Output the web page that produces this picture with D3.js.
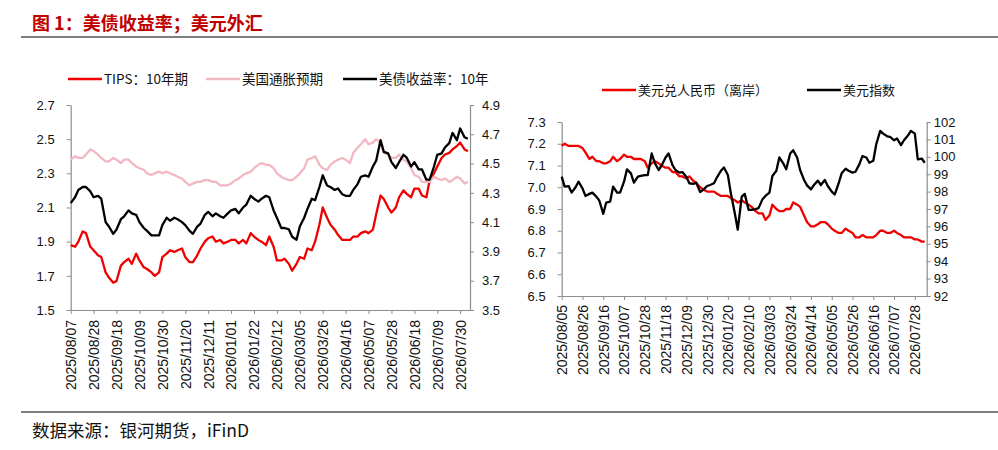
<!DOCTYPE html>
<html>
<head>
<meta charset="utf-8">
<script src="https://cdn.jsdelivr.net/npm/d3@7"></script>
<style>
  body { margin: 0; background: #fff; }
  svg { display: block; font-family: "Noto Sans CJK SC", "Noto Sans", sans-serif; }
  .axis path, .axis line { stroke: #8c8c8c; }
  .axis text { fill: #111; font-size: 13px; }
  .axis.x text { font-size: 14px; }
</style>
</head>
<body>
<svg id="chart" width="998" height="450"></svg>
<script>
// ---- left panel: US rates ----
var usDates = ["2025-08-07","2025-08-11","2025-08-14","2025-08-18","2025-08-21","2025-08-25","2025-08-28",
  "2025-09-01","2025-09-04","2025-09-08","2025-09-11","2025-09-15","2025-09-18","2025-09-22","2025-09-25","2025-09-29",
  "2025-10-02","2025-10-06","2025-10-09","2025-10-13","2025-10-16","2025-10-20","2025-10-23","2025-10-27","2025-10-30",
  "2025-11-03","2025-11-06","2025-11-10","2025-11-13","2025-11-17","2025-11-20","2025-11-24","2025-11-27",
  "2025-12-01","2025-12-04","2025-12-08","2025-12-11","2025-12-15","2025-12-18","2025-12-22","2025-12-25","2025-12-29",
  "2026-01-01","2026-01-05","2026-01-08","2026-01-12","2026-01-15","2026-01-19","2026-01-22","2026-01-26","2026-01-29",
  "2026-02-02","2026-02-05","2026-02-09","2026-02-12","2026-02-16","2026-02-19","2026-02-23","2026-02-26",
  "2026-03-02","2026-03-05","2026-03-09","2026-03-12","2026-03-16","2026-03-19","2026-03-23","2026-03-26","2026-03-30",
  "2026-04-02","2026-04-06","2026-04-09","2026-04-13","2026-04-16","2026-04-20","2026-04-23","2026-04-27","2026-04-30",
  "2026-05-04","2026-05-07","2026-05-11","2026-05-14","2026-05-18","2026-05-21","2026-05-25","2026-05-28",
  "2026-06-01","2026-06-04","2026-06-08","2026-06-11","2026-06-15","2026-06-18","2026-06-22","2026-06-25","2026-06-29",
  "2026-07-02","2026-07-06","2026-07-09","2026-07-13","2026-07-16","2026-07-20","2026-07-23","2026-07-27","2026-07-30",
  "2026-08-03","2026-08-06"];

var tipsYield = [1.88,1.87,1.90,1.96,1.95,1.87,1.85,1.82,1.81,1.72,
  1.69,1.66,1.67,1.76,1.78,1.80,1.77,1.83,1.79,1.75,
  1.74,1.72,1.70,1.72,1.81,1.83,1.85,1.84,1.85,1.86,
  1.81,1.78,1.78,1.82,1.86,1.90,1.92,1.93,1.90,1.91,
  1.89,1.90,1.91,1.91,1.89,1.91,1.89,1.95,1.93,1.91,
  1.90,1.88,1.93,1.87,1.79,1.79,1.80,1.77,1.73,1.77,
  1.81,1.80,1.86,1.85,1.90,2.00,2.10,2.04,2.00,1.97,
  1.94,1.91,1.91,1.91,1.93,1.93,1.95,1.96,1.95,1.97,
  2.06,2.17,2.15,2.10,2.07,2.10,2.16,2.20,2.18,2.16,
  2.21,2.21,2.17,2.16,2.26,2.30,2.34,2.39,2.41,2.42,
  2.44,2.46,2.48,2.44,2.43];

var breakeven = [2.38,2.40,2.39,2.39,2.41,2.44,2.43,2.41,2.39,2.37,
  2.37,2.39,2.38,2.36,2.38,2.38,2.36,2.34,2.33,2.32,
  2.30,2.29,2.30,2.31,2.30,2.31,2.30,2.29,2.28,2.27,
  2.25,2.23,2.24,2.25,2.25,2.26,2.26,2.25,2.25,2.23,
  2.23,2.23,2.24,2.26,2.27,2.29,2.30,2.31,2.33,2.35,
  2.36,2.35,2.35,2.33,2.30,2.28,2.27,2.26,2.26,2.28,
  2.30,2.33,2.38,2.39,2.40,2.35,2.33,2.32,2.35,2.37,
  2.38,2.39,2.38,2.36,2.42,2.45,2.47,2.50,2.47,2.48,
  2.50,2.48,2.42,2.41,2.39,2.39,2.41,2.38,2.37,2.33,
  2.29,2.28,2.25,2.25,2.25,2.28,2.27,2.26,2.27,2.25,
  2.26,2.28,2.27,2.24,2.25];

var ust10y = [4.23,4.27,4.32,4.34,4.34,4.31,4.27,4.28,4.26,4.10,
  4.07,4.02,4.05,4.12,4.14,4.18,4.16,4.15,4.10,4.06,
  4.04,4.01,4.01,4.01,4.08,4.13,4.11,4.13,4.12,4.10,
  4.08,4.04,4.02,4.07,4.09,4.15,4.17,4.14,4.16,4.14,
  4.13,4.16,4.18,4.19,4.16,4.20,4.22,4.28,4.26,4.24,
  4.26,4.28,4.27,4.18,4.13,4.06,4.06,4.05,4.00,3.98,
  4.07,4.13,4.19,4.26,4.25,4.34,4.42,4.35,4.34,4.32,
  4.33,4.29,4.28,4.28,4.32,4.36,4.41,4.42,4.41,4.48,
  4.52,4.66,4.58,4.57,4.51,4.47,4.51,4.56,4.54,4.48,
  4.51,4.46,4.46,4.39,4.39,4.48,4.56,4.57,4.61,4.64,
  4.71,4.66,4.74,4.68,4.67];

var usNames = ["TIPS：10年期", "美国通胀预期", "美债收益率：10年"];
var usTicks = ["2025/08/07","2025/08/28","2025/09/18","2025/10/09","2025/10/30","2025/11/20","2025/12/11",
  "2026/01/01","2026/01/22","2026/02/12","2026/03/05","2026/03/26","2026/04/16","2026/05/07","2026/05/28",
  "2026/06/18","2026/07/09","2026/07/30"];
var usLeftTicks = [1.5, 1.7, 1.9, 2.1, 2.3, 2.5, 2.7];
var usRightTicks = [3.5, 3.7, 3.9, 4.1, 4.3, 4.5, 4.7, 4.9];

// ---- right panel: FX ----
var fxDates = ["2025-08-05","2025-08-08","2025-08-12","2025-08-15","2025-08-19","2025-08-22","2025-08-26","2025-08-29",
  "2025-09-02","2025-09-05","2025-09-09","2025-09-12","2025-09-16","2025-09-19","2025-09-23","2025-09-26","2025-09-30",
  "2025-10-03","2025-10-07","2025-10-10","2025-10-14","2025-10-17","2025-10-21","2025-10-24","2025-10-28","2025-10-31",
  "2025-11-04","2025-11-07","2025-11-11","2025-11-14","2025-11-18","2025-11-21","2025-11-25","2025-11-28",
  "2025-12-02","2025-12-05","2025-12-09","2025-12-12","2025-12-16","2025-12-19","2025-12-23","2025-12-26","2025-12-30",
  "2026-01-02","2026-01-06","2026-01-09","2026-01-13","2026-01-16","2026-01-20","2026-01-23","2026-01-27","2026-01-30",
  "2026-02-03","2026-02-06","2026-02-10","2026-02-13","2026-02-17","2026-02-20","2026-02-24","2026-02-27",
  "2026-03-03","2026-03-06","2026-03-10","2026-03-13","2026-03-17","2026-03-20","2026-03-24","2026-03-27","2026-03-31",
  "2026-04-03","2026-04-07","2026-04-10","2026-04-14","2026-04-17","2026-04-21","2026-04-24","2026-04-28",
  "2026-05-01","2026-05-05","2026-05-08","2026-05-12","2026-05-15","2026-05-19","2026-05-22","2026-05-26","2026-05-29",
  "2026-06-02","2026-06-05","2026-06-09","2026-06-12","2026-06-16","2026-06-19","2026-06-23","2026-06-26","2026-06-30",
  "2026-07-03","2026-07-07","2026-07-10","2026-07-14","2026-07-17","2026-07-21","2026-07-24","2026-07-28","2026-07-31",
  "2026-08-04","2026-08-07"];

var usdCnh = [7.19,7.20,7.19,7.19,7.19,7.19,7.18,7.16,7.13,7.14,
  7.12,7.12,7.11,7.11,7.12,7.14,7.12,7.13,7.15,7.14,
  7.14,7.13,7.13,7.13,7.12,7.09,7.11,7.12,7.11,7.10,
  7.09,7.09,7.07,7.07,7.05,7.05,7.04,7.05,7.03,7.02,
  7.00,6.99,6.98,6.98,6.98,6.97,6.96,6.96,6.96,6.95,
  6.94,6.93,6.94,6.93,6.92,6.91,6.89,6.88,6.88,6.85,
  6.87,6.92,6.90,6.89,6.89,6.90,6.90,6.93,6.92,6.91,
  6.87,6.84,6.82,6.82,6.83,6.84,6.84,6.83,6.81,6.80,
  6.79,6.79,6.81,6.80,6.79,6.77,6.77,6.78,6.77,6.77,
  6.77,6.78,6.80,6.80,6.79,6.79,6.80,6.79,6.78,6.77,
  6.77,6.77,6.76,6.76,6.75,6.75];

var dxy = [98.86,98.29,98.32,97.94,98.25,98.57,98.19,97.75,97.87,97.94,
  97.71,97.49,96.72,97.37,97.43,98.29,97.94,97.94,98.57,99.28,
  99.05,98.51,98.86,98.90,98.95,98.95,100.19,99.66,99.24,99.50,
  99.96,100.19,99.52,99.24,99.09,99.12,98.86,98.48,98.44,98.51,
  97.98,98.10,98.32,98.38,98.48,98.82,99.20,99.39,98.95,97.90,
  96.76,95.81,97.71,97.87,96.95,96.95,96.99,97.05,97.56,97.75,
  97.94,98.90,99.20,99.96,99.62,99.28,100.19,100.38,99.96,99.24,
  98.67,98.36,98.13,98.38,98.63,98.38,98.67,98.32,98.00,97.83,
  98.48,99.05,99.31,99.20,99.09,99.14,99.58,100.04,99.96,99.66,
  99.77,100.72,101.49,101.33,101.18,101.14,100.95,101.05,100.67,100.95,
  101.22,101.49,101.33,99.85,99.90,99.66];

var fxNames = ["美元兑人民币（离岸）", "美元指数"];
var fxTicks = ["2025/08/05","2025/08/26","2025/09/16","2025/10/07","2025/10/28","2025/11/18","2025/12/09",
  "2025/12/30","2026/01/20","2026/02/10","2026/03/03","2026/03/24","2026/04/14","2026/05/05","2026/05/26",
  "2026/06/16","2026/07/07","2026/07/28"];
var fxLeftTicks = [6.5, 6.6, 6.7, 6.8, 6.9, 7.0, 7.1, 7.2, 7.3];
var fxRightTicks = [92, 93, 94, 95, 96, 97, 98, 99, 100, 101, 102];

var svg = d3.select("#chart");
var parseDay = d3.timeParse("%Y-%m-%d");
var parseTick = d3.timeParse("%Y/%m/%d");

// header / footer
svg.append("text").attr("x", 32).attr("y", 30)
  .attr("fill", "#c00000").style("font-size", "18px").style("font-weight", "bold")
  .text("图 1：美债收益率；美元外汇");
svg.append("line").attr("x1", 21).attr("x2", 998).attr("y1", 37).attr("y2", 37)
  .attr("stroke", "#555").attr("stroke-width", 1.3);
svg.append("line").attr("x1", 21).attr("x2", 998).attr("y1", 412).attr("y2", 412)
  .attr("stroke", "#555").attr("stroke-width", 1.3);
svg.append("text").attr("x", 32).attr("y", 437)
  .attr("fill", "#111").style("font-size", "17.5px")
  .text("数据来源：银河期货，iFinD");

function panel(opt) {
  var dates = opt.dates.map(parseDay);
  var x = d3.scaleTime()
    .domain([dates[0], d3.timeDay.offset(dates[dates.length - 1], 2)])
    .range([opt.left, opt.right]);
  var yL = d3.scaleLinear().domain(d3.extent(opt.leftTicks)).range([opt.bottom, opt.top]);
  var yR = d3.scaleLinear().domain(d3.extent(opt.rightTicks)).range([opt.bottom, opt.top]);
  var g = svg.append("g");

  var xa = g.append("g").attr("class", "axis x")
    .attr("transform", "translate(0," + opt.bottom + ")")
    .call(d3.axisBottom(x).tickValues(opt.xTicks.map(parseTick))
      .tickFormat(d3.timeFormat("%Y/%m/%d")).tickSize(4).tickSizeOuter(0));
  xa.selectAll("text")
    .attr("transform", "rotate(-90)")
    .attr("x", -opt.xPad).attr("y", 0).attr("dy", "0.35em")
    .style("text-anchor", "end");

  g.append("g").attr("class", "axis")
    .attr("transform", "translate(" + opt.left + ",0)")
    .call(d3.axisLeft(yL).tickValues(opt.leftTicks).tickFormat(d3.format(opt.leftFmt))
      .tickSize(4).tickPadding(opt.lPad).tickSizeOuter(0));
  g.append("g").attr("class", "axis")
    .attr("transform", "translate(" + opt.right + ",0)")
    .call(d3.axisRight(yR).tickValues(opt.rightTicks).tickFormat(d3.format(opt.rightFmt))
      .tickSize(4).tickPadding(opt.rPad).tickSizeOuter(0));
  g.selectAll(".axis .domain").attr("stroke-width", 1.2);

  opt.series.forEach(function(s) {
    var y = s.axis === "right" ? yR : yL;
    var line = d3.line()
      .x(function(d, i) { return x(dates[i]); })
      .y(function(d) { return y(d); });
    g.append("path").datum(s.values)
      .attr("fill", "none").attr("stroke", s.color)
      .attr("stroke-width", 2.3).attr("stroke-linejoin", "round")
      .attr("d", line);
  });

  // legend
  opt.series.forEach(function(s, i) {
    var lx = opt.legendX[i];
    g.append("line").attr("x1", lx).attr("x2", lx + 34)
      .attr("y1", opt.legendY).attr("y2", opt.legendY)
      .attr("stroke", s.color).attr("stroke-width", 2.6);
    g.append("text").attr("x", lx + 36).attr("y", opt.legendY).attr("dy", "0.36em")
      .attr("fill", "#111").style("font-size", opt.legendSize)
      .text(s.name);
  });
}

panel({
  dates: usDates, xTicks: usTicks,
  left: 70.7, right: 470, top: 105, bottom: 310,
  leftTicks: usLeftTicks, rightTicks: usRightTicks, leftFmt: ".1f", rightFmt: ".1f",
  lPad: 12, rPad: 8, xPad: 10,
  legendX: [68, 206, 343], legendY: 79, legendSize: "13.5px",
  series: [
    { name: usNames[0], values: tipsYield, color: "#f00000", axis: "left" },
    { name: usNames[1], values: breakeven, color: "#f2b8c2", axis: "left" },
    { name: usNames[2], values: ust10y, color: "#000000", axis: "right" }
  ]
});

panel({
  dates: fxDates, xTicks: fxTicks,
  left: 561.7, right: 926.7, top: 122, bottom: 296,
  leftTicks: fxLeftTicks, rightTicks: fxRightTicks, leftFmt: ".1f", rightFmt: "d",
  lPad: 12, rPad: 3, xPad: 9,
  legendX: [602, 807], legendY: 90, legendSize: "13px",
  series: [
    { name: fxNames[0], values: usdCnh, color: "#f00000", axis: "left" },
    { name: fxNames[1], values: dxy, color: "#000000", axis: "right" }
  ]
});
</script>
</body>
</html>
